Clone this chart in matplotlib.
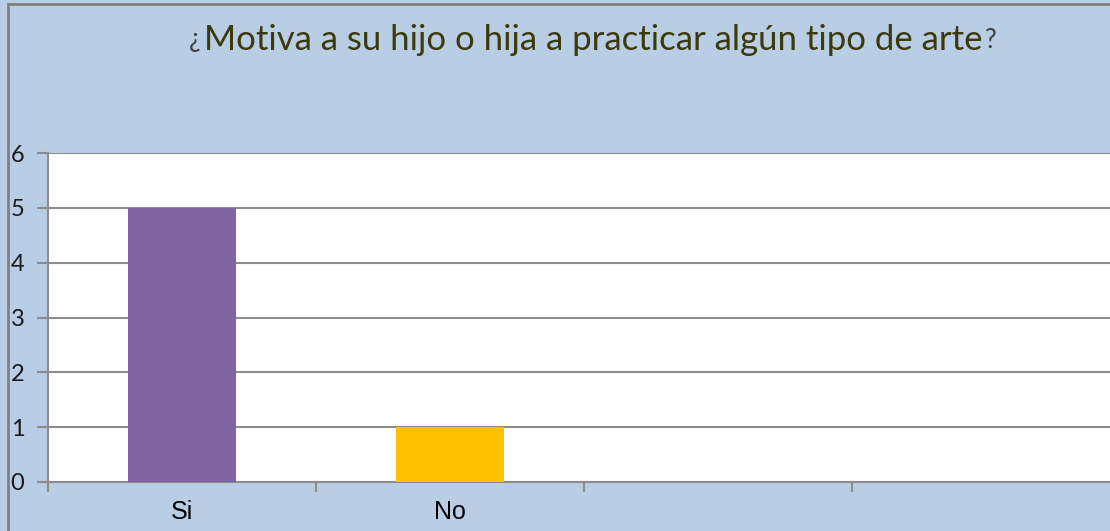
import matplotlib
matplotlib.use("Agg")
import matplotlib.pyplot as plt
from matplotlib.patches import Rectangle

categories = ["Si", "No", "", ""]
values = [5, 1, 0, 0]
bar_colors = ["#8064a2", "#ffc000", "#ffc000", "#ffc000"]
yticks = [0, 1, 2, 3, 4, 5, 6]
title_main = "Motiva a su hijo o hija a practicar algún tipo de arte"

W, H = 1110, 531
fig = plt.figure(figsize=(W / 100, H / 100), dpi=100)
fig.patch.set_facecolor("#b9cde5")

ax = fig.add_axes([48 / W, (H - 482) / H, 1072 / W, 329 / H])
ax.set_facecolor("white")
x = list(range(len(categories)))
ax.bar(x, values, width=0.403, color=bar_colors, zorder=3)
ax.set_xlim(-0.5, 3.5)
ax.set_ylim(0, 6)
ax.set_yticks(yticks)
ax.set_yticklabels([str(v) for v in yticks], fontsize=17, family="Lato", color="#1a1a1a")
ax.set_xticks([i - 0.5 for i in range(len(categories))])
ax.set_xticklabels([])
ax.set_xticks(x, minor=True)
ax.set_xticklabels(categories, minor=True, fontsize=18, family="Liberation Sans")
ax.tick_params(axis="x", which="minor", length=0, pad=13)
ax.tick_params(axis="x", which="major", length=7, width=1.5, color="#8c8c8c")
ax.tick_params(axis="y", length=8, width=1.5, color="#8c8c8c", pad=9)
ax.yaxis.grid(True, color="#8c8c8c", linewidth=1.5, zorder=1)
ax.set_axisbelow(True)
for s in ["top", "right"]:
    ax.spines[s].set_visible(False)
for s in ["left", "bottom"]:
    ax.spines[s].set_color("#8c8c8c")
    ax.spines[s].set_linewidth(1.5)

# title in three parts
tcolor = "#3a3a0c"
t = fig.text(593 / W, 1 - 40 / H, title_main, fontsize=25, family="Lato",
             color=tcolor, ha="center", va="center")
fig.canvas.draw()
bb = t.get_window_extent()
fig.text((bb.x0 - 3) / W, 1 - 40 / H, "¿", fontsize=19, family="Lato",
         color="#404040", ha="right", va="center")
fig.text((bb.x1 + 3) / W, 1 - 40 / H, "?", fontsize=19, family="Lato",
         color="#404040", ha="left", va="center")

# outer border
fig.patches.append(Rectangle((8 / W, -0.1), 1.2, 1 - 4 / H + 0.1, transform=fig.transFigure,
                             fill=False, edgecolor="#808080", linewidth=2))

fig.savefig("out.png", dpi=100, facecolor=fig.get_facecolor())
